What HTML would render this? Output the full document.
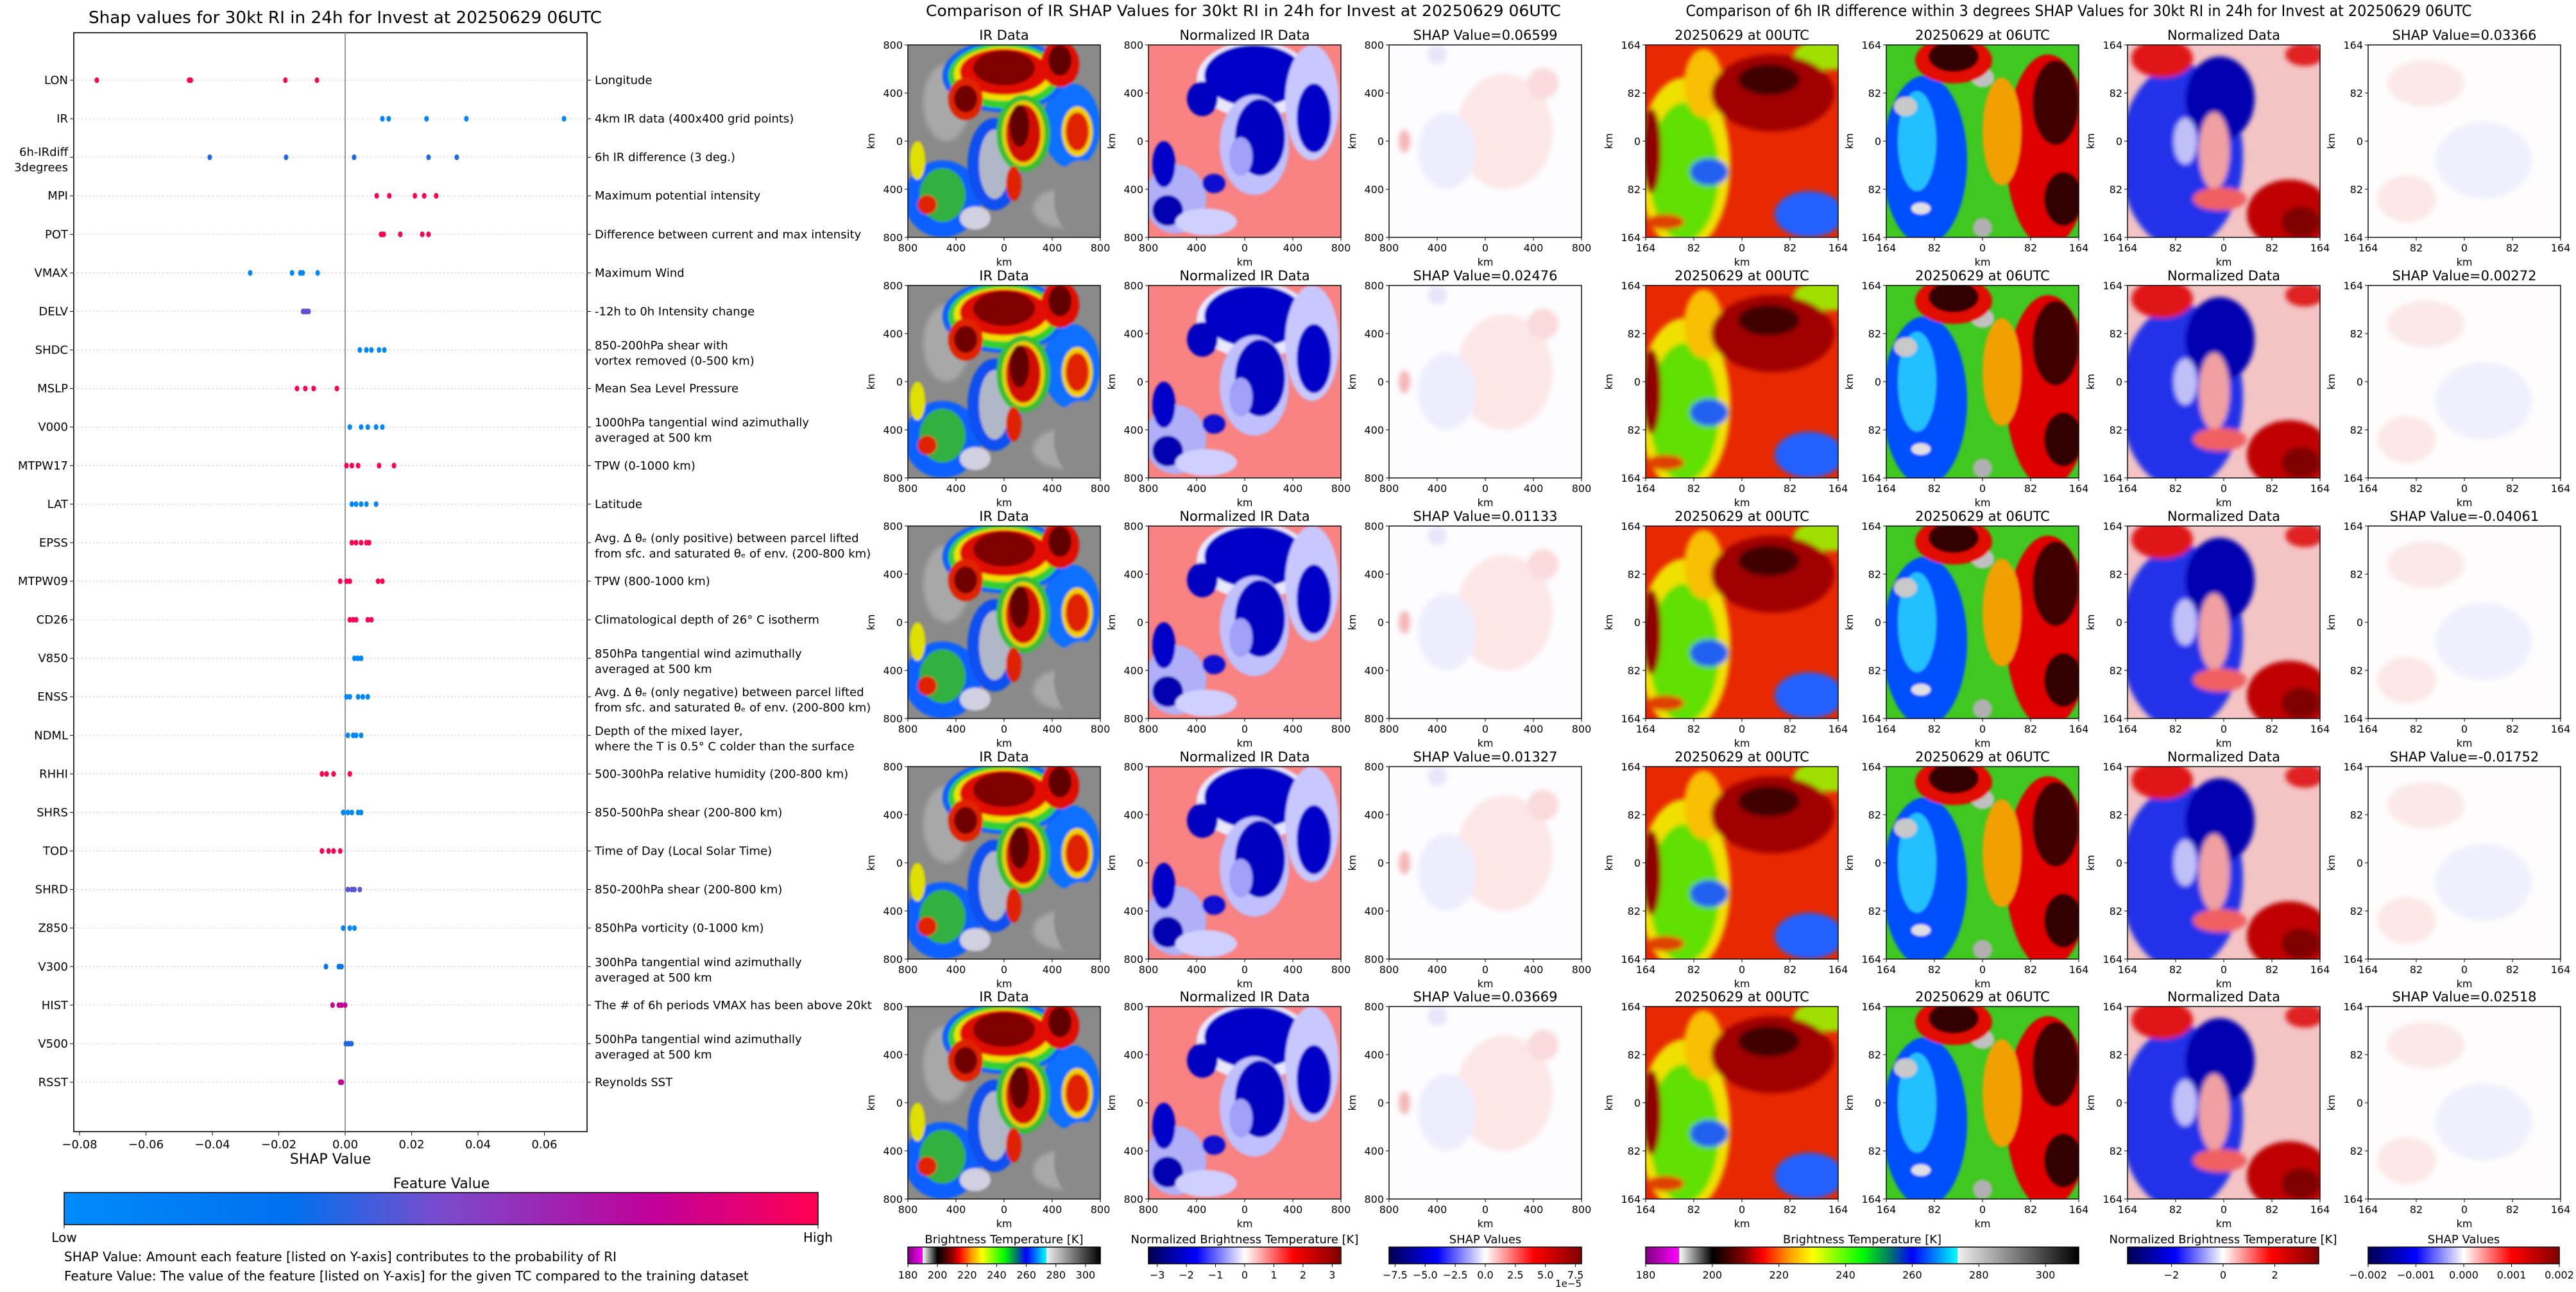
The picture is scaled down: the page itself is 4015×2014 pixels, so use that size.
<!DOCTYPE html>
<html><head><meta charset="utf-8">
<style>
html,body{margin:0;padding:0;background:#fff;}
svg text{font-family:"DejaVu Sans","Liberation Sans",sans-serif;fill:#000;}
</style></head>
<body>
<svg id="root" xmlns="http://www.w3.org/2000/svg" width="4015" height="2009" viewBox="0 0 4015 2009">
<defs>
<filter id="bl" x="-10%" y="-10%" width="120%" height="120%"><feGaussianBlur stdDeviation="0.6"/></filter>
<filter id="bl2" x="-10%" y="-10%" width="120%" height="120%"><feGaussianBlur stdDeviation="1.2"/></filter>
<clipPath id="cp"><rect x="0" y="0" width="100" height="100"/></clipPath>
<linearGradient id="fvGrad" x1="0" x2="1" y1="0" y2="0">
<stop offset="0" stop-color="#008bfb"/><stop offset="0.3" stop-color="#0070ee"/><stop offset="0.5" stop-color="#7a4bcc"/><stop offset="0.78" stop-color="#c0009a"/><stop offset="1" stop-color="#ff0052"/>
</linearGradient>
<linearGradient id="btGrad" x1="0" x2="1">
<stop offset="0" stop-color="#800080"/><stop offset="0.077" stop-color="#ff00ff"/><stop offset="0.077" stop-color="#ffffff"/><stop offset="0.154" stop-color="#000000"/><stop offset="0.23" stop-color="#8b0000"/><stop offset="0.27" stop-color="#ff0000"/><stop offset="0.33" stop-color="#ff9900"/><stop offset="0.385" stop-color="#ffff00"/><stop offset="0.5" stop-color="#00ff00"/><stop offset="0.56" stop-color="#008060"/><stop offset="0.615" stop-color="#0000ff"/><stop offset="0.72" stop-color="#00ffff"/><stop offset="0.72" stop-color="#f0f0f0"/><stop offset="1" stop-color="#000000"/>
</linearGradient>
<linearGradient id="swGrad" x1="0" x2="1">
<stop offset="0" stop-color="#000050"/><stop offset="0.25" stop-color="#0000ff"/><stop offset="0.5" stop-color="#ffffff"/><stop offset="0.75" stop-color="#ff0000"/><stop offset="1" stop-color="#800000"/>
</linearGradient>

<symbol id="s-ir" viewBox="0 0 100 100">
<g clip-path="url(#cp)">
<rect width="100" height="100" fill="#8a8a8a"/>
<g filter="url(#bl2)" fill="#a8a8a8"><ellipse cx="20" cy="30" rx="12" ry="20"/><ellipse cx="80" cy="85" rx="15" ry="10"/></g>
<g filter="url(#bl)">
<ellipse cx="18" cy="80" rx="20" ry="20" fill="#1060ff"/><ellipse cx="18" cy="78" rx="12" ry="14" fill="#30b040"/><ellipse cx="35" cy="90" rx="8" ry="6" fill="#d0d0e0"/>
<ellipse cx="45" cy="62" rx="14" ry="24" fill="#0a50f0"/><ellipse cx="45" cy="62" rx="8" ry="18" fill="#b0b8c8"/><ellipse cx="85" cy="42" rx="15" ry="22" fill="#1070ff"/>
<ellipse cx="50" cy="16" rx="32" ry="19" fill="#1060ff"/><ellipse cx="50" cy="16" rx="29" ry="17" fill="#30d030"/><ellipse cx="50" cy="15" rx="26" ry="14" fill="#f0e000"/><ellipse cx="50" cy="14" rx="23" ry="12" fill="#e01000"/><ellipse cx="50" cy="12" rx="16" ry="9" fill="#800000"/>
<ellipse cx="30" cy="28" rx="9" ry="11" fill="#e02000"/><ellipse cx="30" cy="28" rx="6" ry="7" fill="#700000"/>
<ellipse cx="79" cy="10" rx="10" ry="12" fill="#e01000"/><ellipse cx="79" cy="8" rx="6" ry="8" fill="#600000"/>
<ellipse cx="60" cy="46" rx="14" ry="20" fill="#30c030"/><ellipse cx="60" cy="46" rx="11" ry="17" fill="#e8d000"/><ellipse cx="60" cy="46" rx="9" ry="15" fill="#d01000"/><ellipse cx="58" cy="42" rx="5" ry="11" fill="#600000"/>
<ellipse cx="88" cy="45" rx="8" ry="13" fill="#f0d000"/><ellipse cx="88" cy="45" rx="6" ry="10" fill="#e02000"/>
<ellipse cx="10" cy="83" rx="5" ry="5" fill="#e02000"/><ellipse cx="5" cy="60" rx="4" ry="10" fill="#e0e000"/>
<ellipse cx="55" cy="72" rx="4" ry="9" fill="#e02000"/>
<ellipse cx="90" cy="80" rx="14" ry="20" fill="#8a8a8a"/>
</g></g>
</symbol>

<symbol id="s-nir" viewBox="0 0 100 100">
<g clip-path="url(#cp)">
<rect width="100" height="100" fill="#f88282"/>
<g filter="url(#bl)">
<ellipse cx="55" cy="18" rx="30" ry="20" fill="#e8e8ff"/><ellipse cx="55" cy="16" rx="26" ry="16" fill="#0000c8"/>
<ellipse cx="28" cy="28" rx="8" ry="9" fill="#0000c0"/>
<ellipse cx="85" cy="30" rx="14" ry="30" fill="#c8c8ff"/><ellipse cx="86" cy="38" rx="9" ry="18" fill="#0000c8"/>
<ellipse cx="55" cy="52" rx="18" ry="26" fill="#c0c0ff"/><ellipse cx="58" cy="48" rx="13" ry="20" fill="#0000c0"/><ellipse cx="48" cy="58" rx="6" ry="10" fill="#a0a0f8"/>
<ellipse cx="14" cy="80" rx="16" ry="18" fill="#b0b0f8"/><ellipse cx="10" cy="86" rx="8" ry="8" fill="#0000b0"/>
<ellipse cx="8" cy="62" rx="6" ry="12" fill="#0000c8"/><ellipse cx="30" cy="92" rx="16" ry="7" fill="#d0d0ff"/>
<ellipse cx="34" cy="72" rx="6" ry="5" fill="#1010d0"/>
</g></g>
</symbol>

<symbol id="s-shap" viewBox="0 0 100 100">
<g clip-path="url(#cp)">
<rect width="100" height="100" fill="#fdfcff"/>
<g filter="url(#bl2)">
<ellipse cx="60" cy="45" rx="25" ry="30" fill="#fde6e6"/><ellipse cx="30" cy="55" rx="15" ry="20" fill="#eceefe"/>
<ellipse cx="80" cy="20" rx="8" ry="8" fill="#fadada"/><ellipse cx="25" cy="5" rx="5" ry="5" fill="#e6e6fb"/>
<ellipse cx="8" cy="50" rx="3" ry="6" fill="#f4b8b8"/>
</g></g>
</symbol>

<symbol id="s-t00" viewBox="0 0 100 100">
<g clip-path="url(#cp)">
<rect width="100" height="100" fill="#e82800"/>
<g filter="url(#bl2)">
<ellipse cx="20" cy="62" rx="24" ry="45" fill="#f0e000"/><ellipse cx="20" cy="66" rx="18" ry="36" fill="#60e000"/>
<ellipse cx="30" cy="20" rx="10" ry="18" fill="#f8c000"/><ellipse cx="95" cy="5" rx="18" ry="8" fill="#a0e000"/>
<ellipse cx="33" cy="66" rx="10" ry="7" fill="#2060f0"/>
<ellipse cx="85" cy="88" rx="18" ry="12" fill="#2060ff"/>
<ellipse cx="66" cy="25" rx="32" ry="20" fill="#a00000"/><ellipse cx="64" cy="18" rx="16" ry="8" fill="#400000"/>
<ellipse cx="3" cy="55" rx="5" ry="22" fill="#900000"/><ellipse cx="10" cy="92" rx="10" ry="4" fill="#e04000"/>
</g></g>
</symbol>

<symbol id="s-t06" viewBox="0 0 100 100">
<g clip-path="url(#cp)">
<rect width="100" height="100" fill="#40c820"/>
<g filter="url(#bl)">
<ellipse cx="20" cy="60" rx="22" ry="44" fill="#0050ff"/><ellipse cx="16" cy="50" rx="10" ry="26" fill="#20c0ff"/>
<ellipse cx="10" cy="32" rx="6" ry="5" fill="#c8c8c8"/><ellipse cx="50" cy="17" rx="6" ry="5" fill="#c0c0c0"/><ellipse cx="18" cy="85" rx="5" ry="3" fill="#e0e0e0"/><ellipse cx="50" cy="95" rx="5" ry="5" fill="#b0b0b0"/>
<ellipse cx="84" cy="55" rx="22" ry="50" fill="#e00000"/><ellipse cx="88" cy="30" rx="12" ry="22" fill="#400000"/><ellipse cx="92" cy="80" rx="10" ry="14" fill="#300000"/>
<ellipse cx="60" cy="45" rx="10" ry="28" fill="#f0a000"/>
<ellipse cx="35" cy="8" rx="20" ry="12" fill="#e01000"/><ellipse cx="35" cy="6" rx="13" ry="8" fill="#300000"/>
</g></g>
</symbol>

<symbol id="s-n06" viewBox="0 0 100 100">
<g clip-path="url(#cp)">
<rect width="100" height="100" fill="#f4c4c4"/>
<g filter="url(#bl2)">
<ellipse cx="28" cy="58" rx="32" ry="48" fill="#2030e8"/><ellipse cx="48" cy="28" rx="18" ry="22" fill="#0000b0"/>
<ellipse cx="45" cy="55" rx="8" ry="20" fill="#f0a0a0"/><ellipse cx="30" cy="50" rx="6" ry="12" fill="#c0c0f8"/>
<ellipse cx="18" cy="7" rx="16" ry="10" fill="#e01818"/>
<ellipse cx="92" cy="5" rx="10" ry="6" fill="#e02020"/>
<ellipse cx="84" cy="88" rx="22" ry="18" fill="#c00000"/><ellipse cx="90" cy="92" rx="10" ry="8" fill="#800000"/>
<ellipse cx="48" cy="80" rx="14" ry="6" fill="#f06060"/>
</g></g>
</symbol>

<symbol id="s-shap2" viewBox="0 0 100 100">
<g clip-path="url(#cp)">
<rect width="100" height="100" fill="#fefcfc"/>
<g filter="url(#bl2)">
<ellipse cx="30" cy="20" rx="20" ry="12" fill="#fbe8e8"/><ellipse cx="60" cy="60" rx="25" ry="20" fill="#eef0fd"/><ellipse cx="20" cy="80" rx="15" ry="12" fill="#fde6e6"/>
</g></g>
</symbol>
</defs>

<g id="left">
<text x="538" y="36" font-size="26" text-anchor="middle" textLength="800" lengthAdjust="spacingAndGlyphs">Shap values for 30kt RI in 24h for Invest at 20250629 06UTC</text>
<rect x="115" y="51" width="800" height="1713" fill="none" stroke="#000" stroke-width="1.6"/>
<g id="shapGrid"></g>
<g id="shapDots"></g>
<g id="shapXTicks"></g>
<text x="515" y="1814" font-size="22" text-anchor="middle">SHAP Value</text>
<text x="688" y="1852" font-size="22" text-anchor="middle">Feature Value</text>
<rect x="100" y="1859" width="1175" height="50" fill="url(#fvGrad)" stroke="#000" stroke-width="1.5"/>
<line x1="100" y1="1909" x2="100" y2="1915" stroke="#000"/><line x1="1275" y1="1909" x2="1275" y2="1915" stroke="#000"/>
<text x="100" y="1936" font-size="20" text-anchor="middle">Low</text>
<text x="1275" y="1936" font-size="20" text-anchor="middle">High</text>
<text x="100" y="1966" font-size="20">SHAP Value: Amount each feature [listed on Y-axis] contributes to the probability of RI</text>
<text x="100" y="1996" font-size="20">Feature Value: The value of the feature [listed on Y-axis] for the given TC compared to the training dataset</text>
</g>

<text x="1938" y="25" font-size="24" text-anchor="middle" textLength="990" lengthAdjust="spacingAndGlyphs">Comparison of IR SHAP Values for 30kt RI in 24h for Invest at 20250629 06UTC</text>
<text x="3240" y="25" font-size="24" text-anchor="middle" textLength="1225" lengthAdjust="spacingAndGlyphs">Comparison of 6h IR difference within 3 degrees SHAP Values for 30kt RI in 24h for Invest at 20250629 06UTC</text>
<g id="panels"></g>
<g id="cbars"></g>
</svg>

<script>
// ---- SHAP summary data ----
const features = ["LON","IR","6h-IRdiff\n3degrees","MPI","POT","VMAX","DELV","SHDC","MSLP","V000","MTPW17","LAT","EPSS","MTPW09","CD26","V850","ENSS","NDML","RHHI","SHRS","TOD","SHRD","Z850","V300","HIST","V500","RSST"];
const descriptions = ["Longitude","4km IR data (400x400 grid points)","6h IR difference (3 deg.)","Maximum potential intensity","Difference between current and max intensity","Maximum Wind","-12h to 0h Intensity change","850-200hPa shear with\nvortex removed (0-500 km)","Mean Sea Level Pressure","1000hPa tangential wind azimuthally\naveraged at 500 km","TPW (0-1000 km)","Latitude","Avg. \u0394 \u03b8\u2091 (only positive) between parcel lifted\nfrom sfc. and saturated \u03b8\u2091 of env. (200-800 km)","TPW (800-1000 km)","Climatological depth of 26\u00b0 C isotherm","850hPa tangential wind azimuthally\naveraged at 500 km","Avg. \u0394 \u03b8\u2091 (only negative) between parcel lifted\nfrom sfc. and saturated \u03b8\u2091 of env. (200-800 km)","Depth of the mixed layer,\nwhere the T is 0.5\u00b0 C colder than the surface","500-300hPa relative humidity (200-800 km)","850-500hPa shear (200-800 km)","Time of Day (Local Solar Time)","850-200hPa shear (200-800 km)","850hPa vorticity (0-1000 km)","300hPa tangential wind azimuthally\naveraged at 500 km","The # of 6h periods VMAX has been above 20kt","500hPa tangential wind azimuthally\naveraged at 500 km","Reynolds SST"];
const shapValues = [
[-0.0748,-0.047,-0.0465,-0.018,-0.0085],
[0.0112,0.0131,0.0245,0.0365,0.0659],
[-0.0408,-0.0178,0.0027,0.0251,0.0336],
[0.0095,0.0133,0.021,0.0238,0.0274],
[0.0108,0.0116,0.0166,0.0232,0.0251],
[-0.0286,-0.016,-0.0135,-0.0128,-0.0083],
[-0.0127,-0.0122,-0.0118,-0.0114,-0.011],
[0.0044,0.0064,0.0079,0.0102,0.0118],
[-0.0145,-0.012,-0.0095,-0.0025],
[0.0014,0.0048,0.0068,0.0093,0.0112],
[0.0004,0.002,0.0039,0.0102,0.0147],
[0.002,0.0033,0.0048,0.0064,0.0093],
[0.002,0.0033,0.0048,0.0064,0.0072],
[-0.0015,0.0004,0.0014,0.0099,0.0112],
[0.0014,0.0024,0.0033,0.0068,0.0079],
[0.0028,0.0038,0.0048],
[0.0004,0.0014,0.0039,0.0053,0.0068],
[0.0008,0.0024,0.0033,0.0048],
[-0.007,-0.0056,-0.0035,0.0014],
[-0.0006,0.0008,0.002,0.0039,0.0048],
[-0.007,-0.005,-0.0035,-0.0015],
[0.0008,0.002,0.0028,0.0044],
[-0.0006,0.0014,0.0028],
[-0.0058,-0.0019,-0.0011],
[-0.0038,-0.0019,-0.0011,0.0],
[0.0002,0.001,0.0019],
[-0.0015,-0.001]
];
const featureValues = [1.0,0.05,0.35,1.0,1.0,0.05,0.45,0.05,1.0,0.05,1.0,0.05,1.0,1.0,1.0,0.05,0.05,0.05,1.0,0.05,1.0,0.45,0.05,0.25,0.8,0.35,0.8];
const xTicks = [-0.08,-0.06,-0.04,-0.02,0.00,0.02,0.04,0.06];

const NS="http://www.w3.org/2000/svg";
function mk(tag,attrs,parent){const e=document.createElementNS(NS,tag);for(const k in attrs)e.setAttribute(k,attrs[k]);if(parent)parent.appendChild(e);return e;}
const xScale=v=>538+v*5175;
const yScale=i=>125+i*((1687-125)/(features.length-1));
function fvColor(t){
  const st=[[0,[0,139,251]],[0.3,[0,112,238]],[0.5,[122,75,204]],[0.78,[192,0,154]],[1,[255,0,82]]];
  for(let i=1;i<st.length;i++){if(t<=st[i][0]){const a=st[i-1],b=st[i];const f=(t-a[0])/(b[0]-a[0]);return 'rgb('+a[1].map((c,j)=>Math.round(c+(b[1][j]-c)*f)).join(',')+')';}}
  return 'rgb(255,0,82)';
}
const grid=document.getElementById('shapGrid'), dots=document.getElementById('shapDots'), xt=document.getElementById('shapXTicks');
mk('line',{x1:xScale(0),x2:xScale(0),y1:51,y2:1764,stroke:'#999','stroke-width':2},grid);
features.forEach((f,i)=>{
  const y=yScale(i);
  const gl=mk('line',{x1:115,x2:915,y1:y,y2:y,stroke:'#ccc','stroke-width':1.2,'stroke-dasharray':'2,4'},grid);
  
  
  mk('line',{x1:109,x2:115,y1:y,y2:y,stroke:'#000'},grid);
  mk('line',{x1:915,x2:921,y1:y,y2:y,stroke:'#000'},grid);
  const lines=f.split('\n');
  const t=mk('text',{x:106,y:0,'font-size':18,'text-anchor':'end'},grid);
  
  
  lines.forEach((ln,k)=>{const ts=mk('tspan',{x:106,y:y+6+(k-(lines.length-1)/2)*24+(lines.length>1?4:0)},t);ts.textContent=ln;});
  const dl=descriptions[i].split('\n');
  const d=mk('text',{x:927,y:0,'font-size':18},grid);
  
  
  dl.forEach((ln,k)=>{const ts=mk('tspan',{x:927,y:y+6+(k-(dl.length-1)/2)*24+(dl.length>1?5:0)},d);ts.textContent=ln;});
  shapValues[i].forEach(v=>{
    const c=mk('ellipse',{cx:xScale(v),cy:y,rx:3.5,ry:4.5,fill:fvColor(featureValues[i])},dots);
    
    
  });
});
xTicks.forEach(v=>{
  const x=xScale(v);
  mk('line',{x1:x,x2:x,y1:1764,y2:1770,stroke:'#000'},xt);
  const t=mk('text',{x:x,y:1790,'font-size':18,'text-anchor':'middle'},xt);
  
  
  t.textContent=(v<0?'\u2212':'')+Math.abs(v).toFixed(2);
});

// ---- image panels ----
const rowTops=[70,445,820,1195,1569];
const midCols=[1415,1790,2165];
const rightCols=[2565,2940,3316,3691];
const irShap=["0.06599","0.02476","0.01133","0.01327","0.03669"];
const diffShap=["0.03366","0.00272","-0.04061","-0.01752","0.02518"];
const midTicks=["800","400","0","400","800"];
const rightTicks=["164","82","0","82","164"];
const P=document.getElementById('panels');
function panel(x,y,sym,title,ticks,name){
  const g=mk('g',{},P);
  
  
  mk('use',{href:'#'+sym,x:x,y:y,width:300,height:300},g);
  mk('rect',{x:x,y:y,width:300,height:300,fill:'none',stroke:'#000','stroke-width':1.4},g);
  const t=mk('text',{x:x+150,y:y-8,'font-size':21,'text-anchor':'middle'},g);
  
  
  t.textContent=title;
  ticks.forEach((lb,k)=>{
    const py=y+k*75, px=x+k*75;
    mk('line',{x1:x-5,x2:x,y1:py,y2:py,stroke:'#000'},g);
    const a=mk('text',{x:x-8,y:py+6,'font-size':16,'text-anchor':'end'},g);a.textContent=lb;
    mk('line',{x1:px,x2:px,y1:y+300,y2:y+305,stroke:'#000'},g);
    const b=mk('text',{x:px,y:y+322,'font-size':16,'text-anchor':'middle'},g);b.textContent=lb;
  });
  const kx=mk('text',{x:x+150,y:y+344,'font-size':16,'text-anchor':'middle'},g);kx.textContent='km';
  const ky=mk('text',{x:0,y:0,'font-size':16,'text-anchor':'middle',transform:'translate('+(x-52)+','+(y+150)+') rotate(-90)'},g);ky.textContent='km';
}
rowTops.forEach((y,r)=>{
  panel(midCols[0],y,'s-ir','IR Data',midTicks,'ir-data-panel');
  panel(midCols[1],y,'s-nir','Normalized IR Data',midTicks,'normalized-ir-panel');
  panel(midCols[2],y,'s-shap','SHAP Value='+irShap[r],midTicks,'ir-shap-panel');
  panel(rightCols[0],y,'s-t00','20250629 at 00UTC',rightTicks,'ir-00utc-panel');
  panel(rightCols[1],y,'s-t06','20250629 at 06UTC',rightTicks,'ir-06utc-panel');
  panel(rightCols[2],y,'s-n06','Normalized Data',rightTicks,'normalized-diff-panel');
  panel(rightCols[3],y,'s-shap2','SHAP Value='+diffShap[r],rightTicks,'diff-shap-panel');
});

// ---- colorbars ----
const C=document.getElementById('cbars');
const btTicks=[180,200,220,240,260,280,300];
const nirTicks=[-3,-2,-1,0,1,2,3];
const shapTicks=[-7.5,-5.0,-2.5,0.0,2.5,5.0,7.5];
const ndTicks=[-2,0,2];
const sdTicks=[-0.002,-0.001,0.000,0.001,0.002];
function cbar(x0,x1,grad,title,ticks,lo,hi,fmt,name){
  const g=mk('g',{},C);
  
  
  const t=mk('text',{x:(x0+x1)/2,y:1938,'font-size':18,'text-anchor':'middle'},g);t.textContent=title;
  mk('rect',{x:x0,y:1944,width:x1-x0,height:26,fill:'url(#'+grad+')',stroke:'#000','stroke-width':1.5},g);
  ticks.forEach(v=>{const x=x0+(v-lo)/(hi-lo)*(x1-x0);
    mk('line',{x1:x,x2:x,y1:1970,y2:1975,stroke:'#000'},g);
    const l=mk('text',{x:x,y:1993,'font-size':16,'text-anchor':'middle'},g);l.textContent=fmt(v);});
}
const mfmt=v=>(v<0?'\u2212':'')+Math.abs(v);
cbar(1415,1715,'btGrad','Brightness Temperature [K]',btTicks,180,310,v=>String(v),'bt-colorbar');
cbar(1790,2090,'swGrad','Normalized Brightness Temperature [K]',nirTicks,-3.3,3.3,mfmt,'normalized-colorbar');
cbar(2165,2465,'swGrad','SHAP Values',shapTicks,-8,8,v=>(v<0?'\u2212':'')+Math.abs(v).toFixed(1),'shap-colorbar');
cbar(2565,3240,'btGrad','Brightness Temperature [K]',btTicks,180,310,v=>String(v),'diff-bt-colorbar');
cbar(3316,3614,'swGrad','Normalized Brightness Temperature [K]',ndTicks,-3.7,3.7,mfmt,'diff-normalized-colorbar');
cbar(3691,3989,'swGrad','SHAP Values',sdTicks,-0.002,0.002,v=>(v<0?'\u2212':'')+Math.abs(v).toFixed(3),'diff-shap-colorbar');
const e5=mk('text',{x:2465,y:2006,'font-size':15,'text-anchor':'end'},C);


e5.textContent='1e\u22125';
</script>
</body></html>
